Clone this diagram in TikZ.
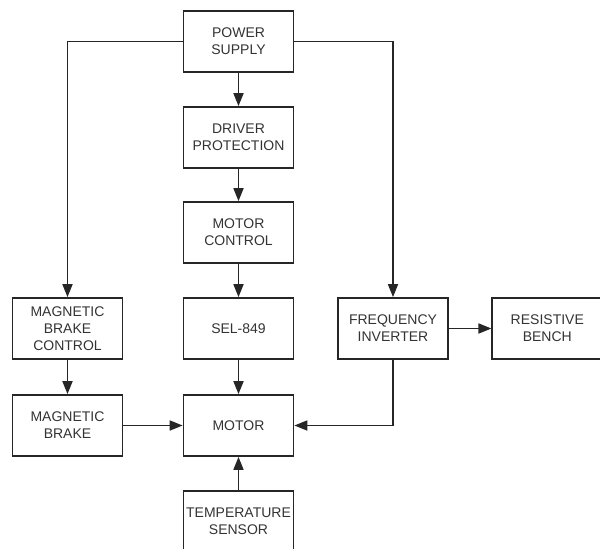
\documentclass[tikz,border=0pt]{standalone}
\usepackage{fontspec}
\setmainfont{Liberation Sans}
\usetikzlibrary{arrows.meta}
\definecolor{ink}{HTML}{262626}
\definecolor{txt}{HTML}{333333}
\tikzset{
  blk/.style={draw=ink, line width=1.7pt, rectangle, minimum width=110pt, minimum height=61pt,
    inner sep=0pt, align=center, text=txt, font=\fontsize{14}{17}\selectfont},
  conn/.style={draw=ink, line width=1.7pt, -{Triangle[length=13pt,width=10pt]}}
}
\begin{document}
\begin{tikzpicture}[x=1pt,y=-1pt]
\useasboundingbox (0,0) rectangle (600,549);
\clip (0,0) rectangle (600,549);
\node[blk] (ps) at (238.5,41.5) {POWER\\SUPPLY};
\node[blk] (dp) at (238.5,137.5) {DRIVER\\PROTECTION};
\node[blk] (mc) at (238.5,232.5) {MOTOR\\CONTROL};
\node[blk] (sel) at (238.5,328.5) {SEL-849};
\node[blk] (mot) at (238.5,425.5) {MOTOR};
\node[blk] (ts) at (238.5,521.5) {TEMPERATURE\\SENSOR};
\node[blk] (mbc) at (67.5,328.5) {MAGNETIC\\BRAKE\\CONTROL};
\node[blk] (mb) at (67.5,425.5) {MAGNETIC\\BRAKE};
\node[blk] (fi) at (393,328.5) {FREQUENCY\\INVERTER};
\node[blk] (rb) at (547.3,328.5) {RESISTIVE\\BENCH};
\draw[conn] (ps.west) -| (mbc.north);
\draw[conn] (ps.east) -| (fi.north);
\draw[conn] (ps) -- (dp);
\draw[conn] (dp) -- (mc);
\draw[conn] (mc) -- (sel);
\draw[conn] (sel) -- (mot);
\draw[conn] (mbc) -- (mb);
\draw[conn] (mb) -- (mot);
\draw[conn] (fi.south) |- (mot.east);
\draw[conn] (fi) -- (rb);
\draw[conn] (ts) -- (mot);
\end{tikzpicture}
\end{document}
